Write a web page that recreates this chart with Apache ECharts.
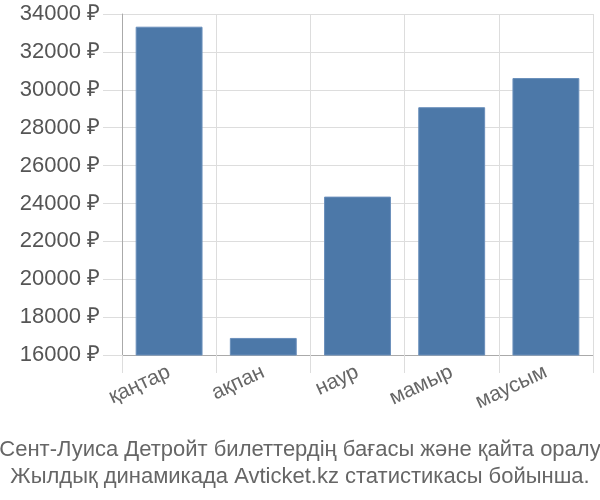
<!DOCTYPE html>
<html><head><meta charset="utf-8">
<script src="https://cdn.jsdelivr.net/npm/echarts@6/dist/echarts.min.js"></script>
<style>html,body{margin:0;padding:0;background:#fff}#c{width:600px;height:500px}</style>
</head><body><div id="c"></div>
<script>
const categories = ["қаңтар", "ақпан", "наур", "мамыр", "маусым"];
const prices = [33330, 16900, 24360, 29080, 30620];
const titleLines = ["Сент-Луиса Детройт билеттердің бағасы және қайта оралу", "Жылдық динамикада Avticket.kz статистикасы бойынша."];

const chart = echarts.init(document.getElementById('c'));
chart.setOption({
  animation: false,
  textStyle: {fontFamily: 'Liberation Sans, Arial, sans-serif'},
  title: {
    text: titleLines.join('\n'),
    left: 'center', bottom: 5,
    textStyle: {fontSize: 22, fontWeight: 'normal', color: '#666', lineHeight: 27, fontFamily: 'Liberation Sans, sans-serif'}
  },
  grid: {left: 122, right: 7, top: 14, bottom: 145},
  xAxis: {
    type: 'category', data: categories,
    axisLine: {lineStyle: {color: '#aaa'}},
    axisTick: {show: true, length: 18, lineStyle: {color: '#ddd'}},
    splitLine: {show: true, lineStyle: {color: '#ddd'}},
    axisLabel: {rotate: 25, fontSize: 21, color: '#666', margin: 16, interval: 0}
  },
  yAxis: {
    type: 'value', min: 16000, max: 34000, interval: 2000,
    axisLine: {show: true, lineStyle: {color: '#aaa'}},
    axisTick: {show: true, length: 19, lineStyle: {color: '#ddd'}},
    splitLine: {lineStyle: {color: '#ddd'}},
    axisLabel: {formatter: v => v + ' ₽', fontSize: 22, color: '#555', margin: 22}
  },
  series: [{
    type: 'bar', data: prices, barWidth: '71%',
    itemStyle: {color: '#4c78a8', borderColor: '#6a8fbb', borderWidth: 1}
  }]
});
</script></body></html>
